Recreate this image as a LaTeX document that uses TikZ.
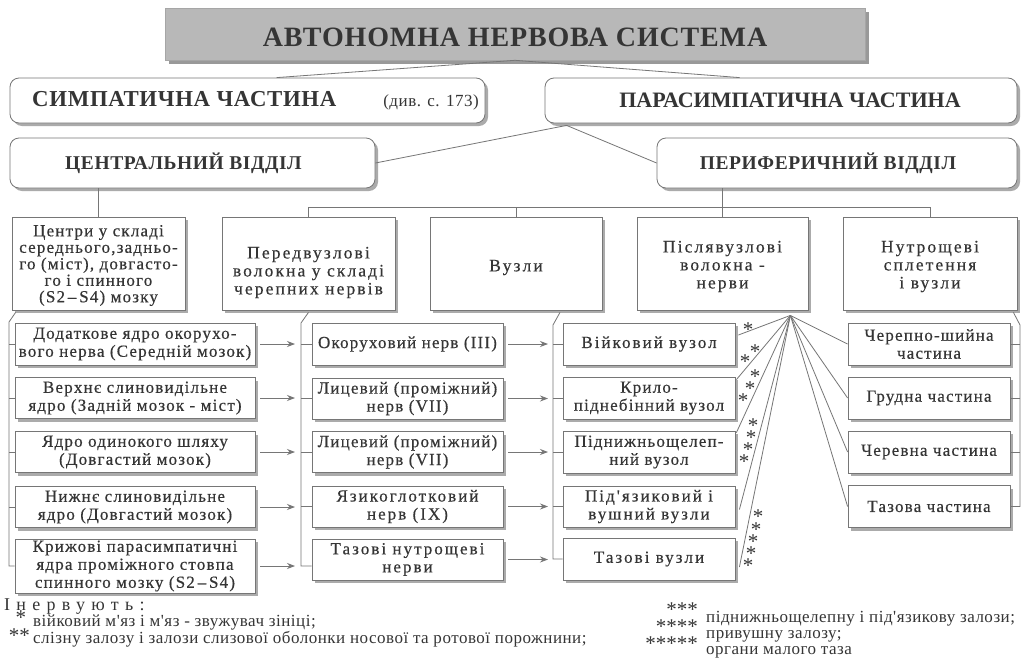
\documentclass[tikz,border=0pt]{standalone}
\usepackage{fontspec}
\setmainfont{Liberation Serif}
\newfontfamily\bxfont[LetterSpace=7,FakeBold=0.4]{Liberation Serif}
\newfontfamily\wdfont[LetterSpace=12,FakeBold=0.4]{Liberation Serif}
\newfontfamily\hdfont[LetterSpace=3]{Liberation Serif}
\newfontfamily\pafont[LetterSpace=0]{Liberation Serif}
\newfontfamily\ttfont[LetterSpace=3]{Liberation Serif}
\newfontfamily\inerfont[LetterSpace=35]{Liberation Serif}
\newfontfamily\lgfont[LetterSpace=3]{Liberation Serif}
\usetikzlibrary{shadows,calc,arrows.meta}
\definecolor{txt}{HTML}{353535}
\definecolor{edge}{HTML}{767676}
\definecolor{shad}{HTML}{ABABAB}
\definecolor{ttlfill}{HTML}{B8B8B8}
\newcommand\bxf{\bxfont\fontsize{17}{18}\selectfont}
\newcommand\dn[2]{\raisebox{-#1}[\height][\depth]{#2}}
\newcommand\as{\raisebox{-0.3em}[0.36em][0pt]{*}}
\begin{document}
\begin{tikzpicture}[x=1pt,y=-1pt,
  box/.style={draw=edge, line width=0.8pt, fill=white,
    drop shadow={shadow xshift=3pt,shadow yshift=-3pt,fill=shad,opacity=1},
    text=txt, align=center, inner sep=1pt, font=\bxf},
  rbox/.style={box, rounded corners=9pt},
  ttl/.style={draw=gray!70, line width=0.6pt, fill=ttlfill,
    drop shadow={shadow xshift=4pt,shadow yshift=-4pt,fill=gray!80,opacity=1},
    text=txt, font={\ttfont\fontsize{28}{30}\selectfont\bfseries}},
  hd/.style={font={\pafont\fontsize{22}{24}\selectfont\bfseries}},
  sh/.style={font={\hdfont\fontsize{19.5}{21}\selectfont\bfseries}},
  top/.style={font={\wdfont\fontsize{17.5}{18}\selectfont}},
  wide/.style={font={\wdfont\fontsize{17}{18}\selectfont}},
  ln/.style={draw=edge, line width=0.8pt},
  arr/.style={ln, -{Stealth[length=8pt,width=6pt]}},
  ast/.style={text=txt, inner sep=0pt, font={\fontsize{21}{21}\selectfont}},
  lg/.style={text=txt, inner sep=0pt, anchor=west, font={\lgfont\fontsize{17}{18}\selectfont}}
]
\useasboundingbox (0,0) rectangle (1029,667);
\fill[white] (0,0) rectangle (1029,667);

% title and main parts
\node[ttl, minimum width=700pt, minimum height=52pt] (title) at (515,34) {\dn{3pt}{АВТОНОМНА НЕРВОВА СИСТЕМА}};
\node[rbox, minimum width=475pt, minimum height=45pt] (symp) at (247.5,100.5)
  {\hspace*{16pt}{\hdfont\fontsize{22.8}{25}\selectfont\bfseries СИМПАТИЧНА ЧАСТИНА}\hspace{47pt}{\lgfont\fontsize{17}{17}\selectfont (див. с. 173)}};
\node[rbox, hd, minimum width=472pt, minimum height=45pt] (para) at (781,100.5) {\hspace*{18pt}ПАРАСИМПАТИЧНА ЧАСТИНА};
\node[rbox, sh, minimum width=365pt, minimum height=50pt] (central) at (192.5,163) {\hspace*{-18pt}ЦЕНТРАЛЬНИЙ ВІДДІЛ};
\node[rbox, sh, minimum width=360pt, minimum height=50pt] (periph) at (837,163) {\hspace*{-18pt}ПЕРИФЕРИЧНИЙ ВІДДІЛ};

% first row
\node[box, minimum width=173pt, minimum height=93pt, font={\bxfont\fontsize{17}{16.5}\selectfont}] (c1) at (98.5,263.5)
  {\dn{2pt}{Центри у складі}\\\dn{2pt}{середнього,задньо-}\\\dn{2pt}{го (міст), довгасто-}\\\dn{2pt}{го і спинного}\\\dn{2pt}{(S2\,–\,S4) мозку}};
\node[box, top, minimum width=173pt, minimum height=93pt] (c2) at (308.5,263.5)
  {\dn{9pt}{Передвузлові}\\\dn{9pt}{волокна у складі}\\\dn{9pt}{черепних нервів}};
\node[box, top, minimum width=172pt, minimum height=93pt] (c3) at (516,263.5) {\dn{4pt}{Вузли}};
\node[box, top, minimum width=171pt, minimum height=93pt] (c4) at (722.5,263.5)
  {\dn{3pt}{Післявузлові}\\\dn{3pt}{волокна -}\\\dn{3pt}{нерви}};
\node[box, top, minimum width=174pt, minimum height=93pt] (c5) at (930,263.5)
  {\dn{3pt}{Нутрощеві}\\\dn{3pt}{сплетення}\\\dn{3pt}{і вузли}};

% left sub-column
\node[box, minimum width=240pt, minimum height=42pt] (L1) at (135,344) {Додаткове ядро окорухо-\\вого нерва (Середній мозок)};
\node[box, minimum width=240pt, minimum height=41pt] (L2) at (135,398) {Верхнє слиновидільне\\ядро (Задній мозок - міст)};
\node[box, minimum width=240pt, minimum height=41pt] (L3) at (135,452) {Ядро одинокого шляху\\(Довгастий мозок)};
\node[box, minimum width=240pt, minimum height=41pt] (L4) at (135,507) {Нижнє слиновидільне\\ядро (Довгастий мозок)};
\node[box, minimum width=240pt, minimum height=54pt] (L5) at (135,566) {Крижові парасимпатичні\\ядра проміжного стовпа\\спинного мозку (S2\,–\,S4)};

% nerves sub-column
\node[box, minimum width=191pt, minimum height=42pt] (M1) at (407.5,344) {Окоруховий нерв (III)};
\node[box, minimum width=191pt, minimum height=41pt] (M2) at (407.5,398.5) {Лицевий (проміжний)\\нерв (VII)};
\node[box, minimum width=191pt, minimum height=41pt] (M3) at (407.5,452) {Лицевий (проміжний)\\нерв (VII)};
\node[box, wide, minimum width=191pt, minimum height=41pt] (M4) at (407.5,506.5) {Язикоглотковий\\нерв (IX)};
\node[box, wide, minimum width=191pt, minimum height=41pt] (M5) at (407.5,559.5) {Тазові нутрощеві\\нерви};

% ganglia sub-column
\node[box, wide, minimum width=172pt, minimum height=42pt] (V1) at (649,344) {Війковий вузол};
\node[box, minimum width=172pt, minimum height=42pt] (V2) at (649,398) {Крило-\\піднебінний вузол};
\node[box, minimum width=172pt, minimum height=42pt] (V3) at (649,452) {Піднижньощелеп-\\ний вузол};
\node[box, wide, minimum width=172pt, minimum height=41pt] (V4) at (649,506.5) {Під'язиковий і\\вушний вузли};
\node[box, wide, minimum width=172pt, minimum height=42pt] (V5) at (649,559) {Тазові вузли};

% plexus sub-column
\node[box, minimum width=162pt, minimum height=42pt] (N1) at (929,344) {Черепно-шийна\\частина};
\node[box, minimum width=162pt, minimum height=42pt] (N2) at (929,398) {Грудна частина};
\node[box, minimum width=162pt, minimum height=42pt] (N3) at (929,452) {Черевна частина};
\node[box, minimum width=162pt, minimum height=42pt] (N4) at (929,506.5) {Тазова частина};

% upper connectors
\draw[ln] ($(symp.north west)+(267,0)$) -- (title.south) -- ($(para.north west)+(195,0)$);
\coordinate (pj) at ($(para.south west)+(22,2)$);
\draw[ln] (central.east) -- (pj) -- (periph.west);
\draw[ln] (central.south -| c1.north) -- (c1.north);
\coordinate (bar) at (0,207);
\draw[ln] (periph.south -| c4.north) -- (c4.north);
\draw[ln] (c2.north) -- (c2.north |- bar) -- (c5.north |- bar) -- (c5.north);
\draw[ln] (c3.north) -- (c3.north |- bar);

% brackets
\coordinate (lb) at (9,0);
\coordinate (mb) at (301,0);
\coordinate (vb) at (553,0);
\coordinate (nb) at (1020,0);
\draw[ln] ($(c1.south west)+(4,2)$) -- (9,322) -- (lb |- L5.west) -- (L5.west);
\foreach \n in {L1,L2,L3,L4} \draw[ln] (lb |- \n.west) -- (\n.west);
\draw[ln] ($(c2.south)+(0,2)$) -- (301,323) -- (mb |- L5.east) -- (M5.west |- L5.east);
\foreach \n in {M1,M2,M3,M4} \draw[ln] (mb |- \n.west) -- (\n.west);
\draw[ln] ($(c3.south)+(44,2)$) -- (553,325) -- (vb |- V5.west) -- (V5.west);
\foreach \n in {V1,V2,V3,V4} \draw[ln] (vb |- \n.west) -- (\n.west);
\draw[ln] ($(c5.south east)+(-4,2)$) -- (1020,325) -- (nb |- N4.east) -- (N4.east);
\foreach \n in {N1,N2,N3} \draw[ln] (nb |- \n.east) -- (\n.east);

% arrows
\foreach \n in {L1,L2,L3,L4,L5} \draw[arr] ($(\n.east)+(5,0)$) -- ($(mb |- \n.east)+(-6,0)$);
\foreach \n in {M1,M2,M3,M4,M5} \draw[arr] ($(\n.east)+(5,0)$) -- ($(vb |- \n.east)+(-5,0)$);

% fan
\coordinate (apex) at ($(c4.south east)+(-18,5)$);
\draw[ln] (apex) -- ($(V1.east)+(3,-9)$);
\draw[ln] (apex) -- ($(V2.north east)+(1,3)$);
\draw[ln] (apex) -- ($(V3.north east)+(1,2)$);
\draw[ln] (apex) -- ($(V4.east)+(4,3)$);
\draw[ln] (apex) -- ($(V5.east)+(4,8)$);
\foreach \n in {N1,N2,N3,N4} \draw[ln] (apex) -- (\n.west);

% asterisks on the fan
\node[ast] (s11) at (748,326) {\as};
\node[ast] (s21) at (755,348) {\as};
\node[ast] (s22) at (745,358) {\as};
\node[ast] (s31) at (755,373) {\as};
\node[ast] (s32) at (750,385) {\as};
\node[ast] (s33) at (743,397) {\as};
\node[ast] (s41) at (753,422) {\as};
\node[ast] (s42) at (751,434) {\as};
\node[ast] (s43) at (748,446) {\as};
\node[ast] (s44) at (744,458) {\as};
\node[ast] (s51) at (758,513) {\as};
\node[ast] (s52) at (756,526) {\as};
\node[ast] (s53) at (753,538) {\as};
\node[ast] (s54) at (751,550) {\as};
\node[ast] (s55) at (748,562) {\as};

% legend
\node[text=txt, inner sep=0pt, anchor=west, font={\inerfont\fontsize{18}{18}\selectfont}] (iner) at (4,607) {Інервують:};
\node[ast] (la1) at (21,614) {\as};
\node[lg] (lt1) at (33,623) {війковий м'яз і м'яз - звужувач зініці;};
\node[ast, anchor=east] (la2) at (30,632) {\as\as};
\node[lg] (lt2) at (33,639) {слізну залозу і залози слизової оболонки носової та ротової порожнини;};
\node[ast, anchor=east] (la3) at (698,606) {\as\as\as};
\node[lg] (lt3) at (706,619) {піднижньощелепну і під'язикову залози;};
\node[ast, anchor=east] (la4) at (698,623) {\as\as\as\as};
\node[lg] (lt4) at (706,636) {привушну залозу;};
\node[ast, anchor=east] (la5) at (698,640) {\as\as\as\as\as};
\node[lg] (lt5) at (706,652) {органи малого таза};
\end{tikzpicture}
\end{document}
